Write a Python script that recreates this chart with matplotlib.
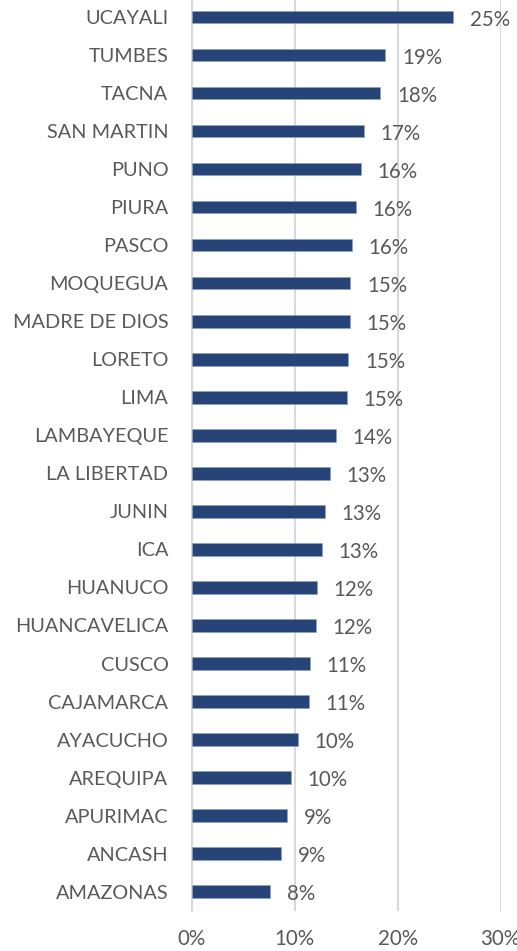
import matplotlib
matplotlib.use("Agg")
import matplotlib.pyplot as plt
from matplotlib.ticker import FuncFormatter

categories = ["UCAYALI", "TUMBES", "TACNA", "SAN MARTIN", "PUNO", "PIURA", "PASCO",
              "MOQUEGUA", "MADRE DE DIOS", "LORETO", "LIMA", "LAMBAYEQUE", "LA LIBERTAD",
              "JUNIN", "ICA", "HUANUCO", "HUANCAVELICA", "CUSCO", "CAJAMARCA", "AYACUCHO",
              "AREQUIPA", "APURIMAC", "ANCASH", "AMAZONAS"]
values = [25.4, 18.8, 18.3, 16.7, 16.4, 15.95, 15.55, 15.4, 15.35, 15.2, 15.05, 14.0,
          13.4, 12.9, 12.65, 12.1, 12.07, 11.45, 11.36, 10.3, 9.6, 9.25, 8.65, 7.6]
xticks = [0, 10, 20, 30]

plt.rcParams['font.family'] = ['Lato', 'DejaVu Sans']
W, H = 517, 951
fig = plt.figure(figsize=(W / 100, H / 100), dpi=100)
left, right = 192 / W, 500.7 / W
bottom, top = 1 - 910.7 / H, 1 + 2 / H
ax = fig.add_axes([left, bottom, right - left, top - bottom])

text_color = "#595959"
ypos = list(range(len(categories)))
ax.barh(ypos, values, height=0.33, color="#264478", edgecolor="#8fa2c4", linewidth=0.4, zorder=3)
ax.set_ylim(len(categories) - 0.5, -0.5)
ax.set_xlim(0, 30)
ax.set_yticks(ypos)
ax.set_yticklabels(categories)
ax.set_xticks(xticks)
ax.xaxis.set_major_formatter(FuncFormatter(lambda v, p: f"{v:.0f}%"))
ax.tick_params(axis='y', length=0, pad=17, labelsize=14.3, labelcolor=text_color)
ax.tick_params(axis='x', length=0, pad=13, labelsize=14.8, labelcolor=text_color)
ax.grid(axis='x', color="#d9d9d9", linewidth=1.5, zorder=0)
for s in ["top", "right", "bottom"]:
    ax.spines[s].set_visible(False)
ax.spines["left"].set_color("#d9d9d9")
ax.spines["left"].set_linewidth(1.5)

for y, v in zip(ypos, values):
    ax.annotate(f"{round(v):.0f}%", (v, y), xytext=(12, -2), textcoords="offset points",
                ha="left", va="center", fontsize=14.8, color=text_color, zorder=4)

fig.savefig("out.png", dpi=100)
